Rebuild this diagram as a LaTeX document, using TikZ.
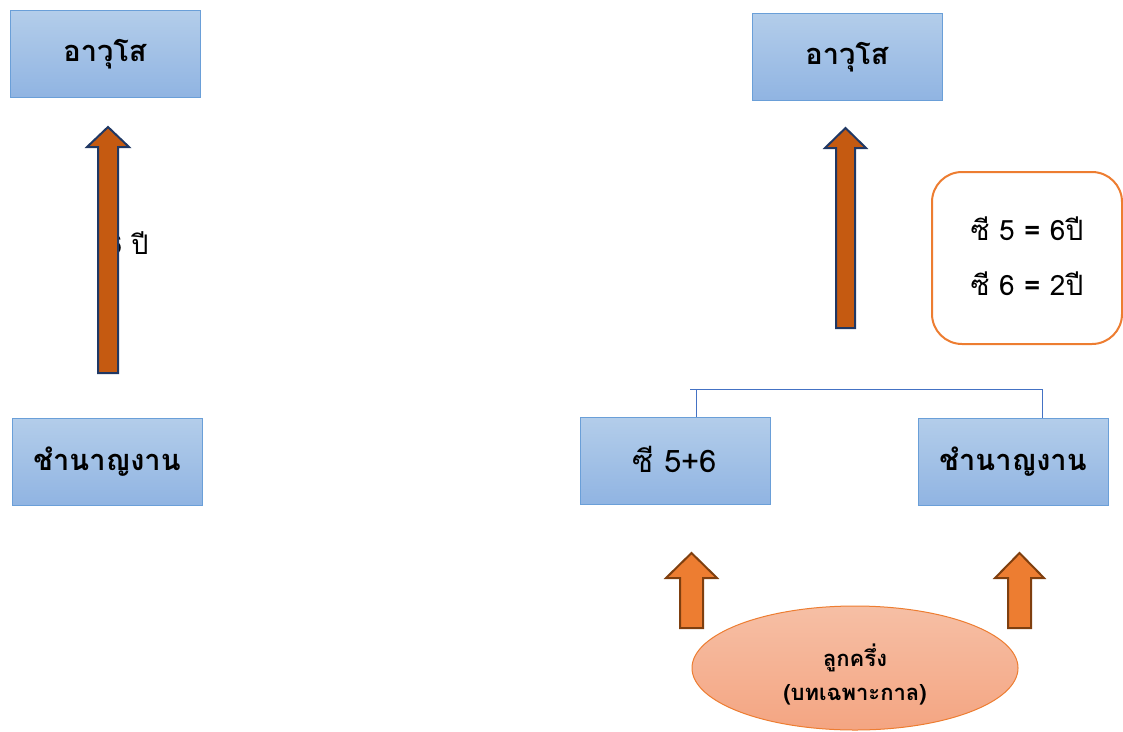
\documentclass[tikz,border=0pt]{standalone}
\usepackage{fontspec}
\usetikzlibrary{shapes.geometric}
\newfontfamily\thaifont[Script=Thai]{Loma}
\definecolor{boxtop}{HTML}{B3CDEA}
\definecolor{boxbot}{HTML}{90B4E2}
\definecolor{boxline}{HTML}{6A9FD8}
\definecolor{linkblue}{HTML}{4472C4}
\definecolor{bigarrow}{HTML}{C55A11}
\definecolor{navy}{HTML}{203864}
\definecolor{orng}{HTML}{ED7D31}
\definecolor{brwn}{HTML}{7F3F0F}
\definecolor{elltop}{HTML}{F6BFA5}
\definecolor{ellbot}{HTML}{F4A582}
\tikzset{
  bluebox/.style={draw=boxline, line width=1pt, top color=boxtop, bottom color=boxbot,
    minimum width=190pt, minimum height=87pt, inner sep=0pt, font=\thaifont\fontsize{29}{34}\selectfont},
  tallarrow/.style={fill=bigarrow, draw=navy, line width=2pt, line join=miter},
  shortarrow/.style={fill=orng, draw=brwn, line width=2pt, line join=miter},
  link/.style={draw=linkblue, line width=1pt},
  ruletext/.style={font=\thaifont\fontsize{28}{32}\selectfont},
  elltext/.style={font=\thaifont\bfseries\fontsize{22}{26}\selectfont}
}
\newcommand{\boxlabel}[1]{\raisebox{3pt}{#1}}
\begin{document}
\begin{tikzpicture}[x=1pt, y=-1pt]
\useasboundingbox (0,0) rectangle (1123,731);

% left column
\node[bluebox] (seniorL) at (105,54) {\boxlabel{\bfseries อาวุโส}};
\node[bluebox] (expertL) at (107,462) {\boxlabel{\bfseries ชำนาญงาน}};
\node[anchor=west, inner sep=0pt, font=\thaifont\fontsize{27}{30}\selectfont] (yearsL) at (107,243) {6 ปี};
\path[tallarrow] (98,373) -- (98,147) -- (87,147) -- (108,127) -- (129,147) -- (118,147) -- (118,373) -- cycle;

% right column
\node[bluebox] (seniorR) at (847,57) {\boxlabel{\bfseries อาวุโส}};
\path[tallarrow] (836,328) -- (836,148) -- (825,148) -- (845.5,128) -- (866,148) -- (855,148) -- (855,328) -- cycle;

\node[draw=orng, line width=2pt, fill=white, rounded corners=30pt,
      minimum width=190pt, minimum height=172pt] (rule) at (1027,258) {};
\node[ruletext] (ruleA) at (1027,229) {ซี 5 \textbf{=} 6ปี};
\node[ruletext] (ruleB) at (1027,284) {ซี 6 \textbf{=} 2ปี};

\node[bluebox, font=\thaifont\fontsize{31}{36}\selectfont] (cfive) at (675,461) {\boxlabel{ซี 5+6}};
\node[bluebox] (expertR) at (1013,462) {\boxlabel{\bfseries ชำนาญงาน}};

% bracket joining the two lower boxes
\coordinate (barL) at (690,389);
\coordinate (dropL) at (696,389);
\coordinate (dropR) at (1042,389);
\draw[link] (barL) -- (dropR) -- (dropR |- expertR.north);
\draw[link] (dropL) -- (dropL |- cfive.north);

% lower arrows and ellipse
\path[shortarrow] (680,628) -- (680,578) -- (666,578) -- (691.5,553) -- (717,578) -- (703,578) -- (703,628) -- cycle;
\path[shortarrow] (1008,628) -- (1008,578) -- (995,578) -- (1019.5,553) -- (1044,578) -- (1031,578) -- (1031,628) -- cycle;

\node[ellipse, draw=orng, line width=1pt, top color=elltop, bottom color=ellbot,
      minimum width=326pt, minimum height=124pt, inner sep=0pt] (mixed) at (855,668) {};
\node[elltext] (mixedA) at (855,658) {ลูกครึ่ง};
\node[elltext] (mixedB) at (855,695) {(บทเฉพาะกาล)};
\end{tikzpicture}
\end{document}
